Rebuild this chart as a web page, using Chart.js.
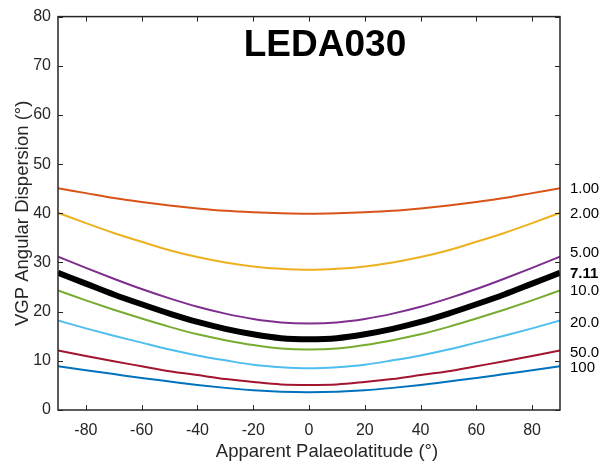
<!DOCTYPE html>
<html>
<head>
<meta charset="utf-8">
<script src="https://cdn.jsdelivr.net/npm/chart.js@4"></script>
<style>
    html, body { margin: 0; padding: 0; background: #fff; }
    #wrap { position: relative; width: 605px; height: 463px; }
</style>
</head>
<body>
<div id="wrap"><canvas id="chart" width="605" height="463"></canvas></div>
<script>
// palaeolatitude samples (deg)
const latitudes = [-90, -80, -70, -60, -50, -40, -30, -20, -10, 0, 10, 20, 30, 40, 50, 60, 70, 80, 90];
const yTicks = [0, 10, 20, 30, 40, 50, 60, 70, 80];
const xTicks = [-80, -60, -40, -20, 0, 20, 40, 60, 80];

// dispersion curves, one per ratio label
const s100 = [45.1, 44.1, 43.1, 42.3, 41.6, 41.0, 40.5, 40.2, 40.0, 39.9, 40.0, 40.2, 40.5, 41.0, 41.6, 42.3, 43.1, 44.1, 45.1];
const s200 = [40.1, 38.0, 36.0, 34.2, 32.5, 31.1, 30.0, 29.2, 28.7, 28.5, 28.7, 29.2, 30.0, 31.1, 32.5, 34.2, 36.0, 38.0, 40.1];
const s500 = [31.2, 28.9, 26.7, 24.6, 22.7, 21.0, 19.6, 18.5, 17.8, 17.6, 17.8, 18.5, 19.6, 21.0, 22.7, 24.6, 26.7, 28.9, 31.2];
const s711 = [27.9, 25.7, 23.5, 21.5, 19.6, 17.9, 16.5, 15.4, 14.6, 14.4, 14.6, 15.4, 16.5, 17.9, 19.6, 21.5, 23.5, 25.7, 27.9];
const s1000 = [24.3, 22.3, 20.4, 18.6, 16.9, 15.4, 14.2, 13.2, 12.5, 12.3, 12.5, 13.2, 14.2, 15.4, 16.9, 18.6, 20.4, 22.3, 24.3];
const s2000 = [18.2, 16.6, 15.1, 13.7, 12.3, 11.1, 10.1, 9.2, 8.7, 8.5, 8.7, 9.2, 10.1, 11.1, 12.3, 13.7, 15.1, 16.6, 18.2];
const s5000 = [12.1, 11.0, 9.9, 8.9, 7.9, 7.1, 6.3, 5.7, 5.2, 5.1, 5.2, 5.7, 6.3, 7.1, 7.9, 8.9, 9.9, 11.0, 12.1];
const s10000 = [8.9, 8.1, 7.3, 6.5, 5.8, 5.1, 4.5, 4.0, 3.7, 3.6, 3.7, 4.0, 4.5, 5.1, 5.8, 6.5, 7.3, 8.1, 8.9];

const curveLabels = ['1.00', '2.00', '5.00', '7.11', '10.0', '20.0', '50.0', '100'];
// where each right-hand label sits (data units)
const labelY = [44.9, 39.9, 32.0, 27.7, 24.3, 17.8, 11.7, 8.5];

const series = [s100, s200, s500, s711, s1000, s2000, s5000, s10000];
const colors = ['#D95319', '#EDB120', '#7E2F8E', '#000000', '#77AC30', '#4DBEEE', '#A2142F', '#0072BD'];
const widths = [2, 2, 2, 6, 2, 2, 2, 2];

const FONT = '"Liberation Sans", Arial, Helvetica, sans-serif';
const AXIS = '#262626';

const datasets = series.map((vals, i) => ({
    label: curveLabels[i],
    data: latitudes.map((x, j) => ({ x: x, y: vals[j] })),
    borderColor: colors[i],
    borderWidth: widths[i],
    pointRadius: 0,
    fill: false,
    cubicInterpolationMode: 'monotone',
    order: i === 3 ? 0 : 1
}));

const decorations = {
    id: 'decorations',
    afterDraw(chart) {
        const ctx = chart.ctx;
        const a = chart.chartArea;
        const xs = chart.scales.x, ys = chart.scales.y;
        ctx.save();
        // box
        ctx.strokeStyle = AXIS;
        ctx.lineWidth = 1.5;
        ctx.strokeRect(a.left, a.top, a.right - a.left, a.bottom - a.top);
        // inward ticks
        ctx.lineWidth = 1;
        const tl = 5;
        ctx.beginPath();
        xTicks.forEach(v => {
            const px = Math.round(xs.getPixelForValue(v)) + 0.5;
            ctx.moveTo(px, a.bottom); ctx.lineTo(px, a.bottom - tl);
            ctx.moveTo(px, a.top); ctx.lineTo(px, a.top + tl);
        });
        yTicks.forEach(v => {
            const py = Math.round(ys.getPixelForValue(v)) + 0.5;
            ctx.moveTo(a.left, py); ctx.lineTo(a.left + tl, py);
            ctx.moveTo(a.right, py); ctx.lineTo(a.right - tl, py);
        });
        ctx.stroke();

        // title inside plot
        ctx.fillStyle = '#000';
        ctx.font = 'bold 37px ' + FONT;
        ctx.textAlign = 'center';
        ctx.textBaseline = 'middle';
        ctx.fillText('LEDA030', 325, 46);

        // x axis label (sits a little right of centre in the original)
        ctx.fillStyle = AXIS;
        ctx.font = '18.5px ' + FONT;
        ctx.fillText('Apparent Palaeolatitude (°)', 327, 452);

        // curve labels at right
        ctx.textAlign = 'left';
        curveLabels.forEach((t, i) => {
            ctx.font = (i === 3 ? 'bold ' : '') + '15px ' + FONT;
            ctx.fillStyle = '#000';
            ctx.fillText(t, 570, ys.getPixelForValue(labelY[i]));
        });
        ctx.restore();
    }
};

new Chart(document.getElementById('chart'), {
    type: 'line',
    data: { datasets: datasets },
    options: {
        responsive: false,
        animation: false,
        layout: { padding: { top: 15, right: 45, left: 0, bottom: 0 } },
        plugins: { legend: { display: false }, tooltip: { enabled: false } },
        scales: {
            x: {
                type: 'linear',
                min: -90, max: 90,
                afterBuildTicks: s => { s.ticks = xTicks.map(v => ({ value: v })); },
                afterFit: s => { s.height = 53; },
                grid: { display: false, drawTicks: false },
                border: { display: false },
                ticks: { color: AXIS, font: { family: FONT, size: 16 }, padding: 11, maxRotation: 0 }
            },
            y: {
                min: 0, max: 80,
                afterBuildTicks: s => { s.ticks = yTicks.map(v => ({ value: v })); },
                afterFit: s => { s.width = 58; },
                grid: { display: false, drawTicks: false },
                border: { display: false },
                ticks: { color: AXIS, font: { family: FONT, size: 16 }, padding: 7 },
                title: { display: true, text: 'VGP Angular Dispersion (°)', color: AXIS, font: { family: FONT, size: 18.5 }, padding: { top: 12, bottom: 2 } }
            }
        }
    },
    plugins: [decorations]
});
</script>
</body>
</html>
